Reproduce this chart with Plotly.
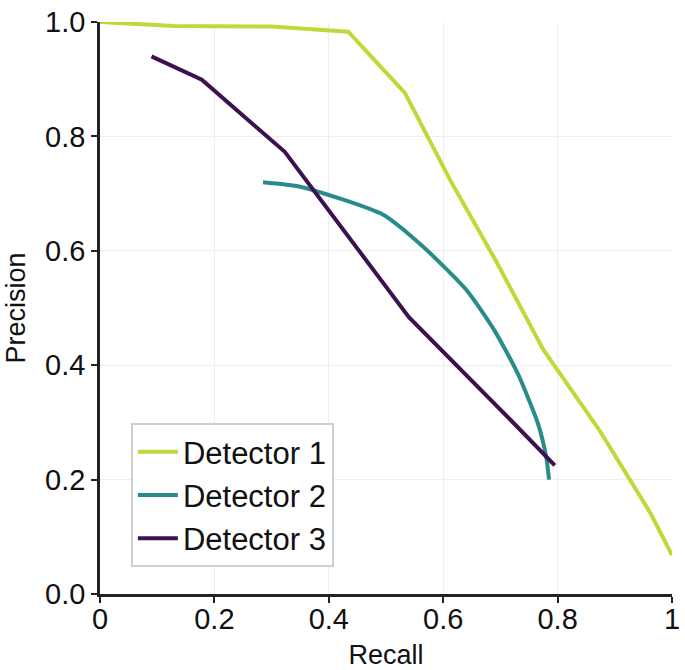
import plotly.graph_objects as go

det1_recall = [0.0, 0.13, 0.30, 0.434, 0.533, 0.612, 0.694, 0.775, 0.874, 0.962, 1.0]
det1_precision = [1.0, 0.993, 0.992, 0.983, 0.876, 0.724, 0.579, 0.427, 0.285, 0.142, 0.068]

det2_recall = [0.285, 0.35, 0.495, 0.565, 0.641, 0.69, 0.73, 0.765, 0.78, 0.785]
det2_precision = [0.72, 0.712, 0.663, 0.607, 0.531, 0.46, 0.386, 0.30, 0.24, 0.20]

det3_recall = [0.09, 0.178, 0.323, 0.54, 0.72, 0.795]
det3_precision = [0.94, 0.899, 0.773, 0.484, 0.302, 0.225]

x_ticks = [0, 0.2, 0.4, 0.6, 0.8, 1.0]
x_ticktext = ["0", "0.2", "0.4", "0.6", "0.8", "1"]
y_ticks = [0, 0.2, 0.4, 0.6, 0.8, 1.0]
y_ticktext = ["0.0", "0.2", "0.4", "0.6", "0.8", "1.0"]

fig = go.Figure()
fig.add_trace(go.Scatter(x=det1_recall, y=det1_precision, mode="lines", name="Detector 1",
                         line=dict(color="#c0d838", width=4)))
fig.add_trace(go.Scatter(x=det2_recall, y=det2_precision, mode="lines", name="Detector 2",
                         line=dict(color="#2a8c8a", width=4, shape="spline", smoothing=0.6)))
fig.add_trace(go.Scatter(x=det3_recall, y=det3_precision, mode="lines", name="Detector 3",
                         line=dict(color="#3d1150", width=4)))

font = "Liberation Sans, Arial, sans-serif"
fig.update_layout(
    width=685, height=670,
    margin=dict(l=100, r=13, t=22, b=76),
    paper_bgcolor="white", plot_bgcolor="white",
    font=dict(family=font, size=29, color="#111111"),
    showlegend=True,
    legend=dict(x=0.054, y=0.047, xanchor="left", yanchor="bottom",
                bgcolor="white", bordercolor="#cfcfcf", borderwidth=2,
                font=dict(size=31, family=font, color="#111111"),
                tracegroupgap=0, itemwidth=40, entrywidth=170, entrywidthmode="pixels"),
    xaxis=dict(range=[0, 1], tickvals=x_ticks, ticktext=x_ticktext,
               automargin=False, ticklabeloverflow="allow", ticklabelstandoff=-9,
               showline=True, linecolor="#222222", linewidth=2.5,
               ticks="outside", ticklen=6, tickwidth=2, tickcolor="#222222",
               showgrid=True, gridcolor="#eeeeee", gridwidth=1, zeroline=False,
               title=dict(text="Recall", standoff=13, font=dict(size=27)),
               tickfont=dict(size=29)),
    yaxis=dict(range=[0, 1], tickvals=y_ticks, ticktext=y_ticktext,
               automargin=False, ticklabeloverflow="allow",
               showline=True, linecolor="#222222", linewidth=2.5,
               ticks="outside", ticklen=6, tickwidth=2, tickcolor="#222222",
               showgrid=True, gridcolor="#eeeeee", gridwidth=1, zeroline=False,
               title=dict(text="Precision", standoff=12, font=dict(size=27)),
               tickfont=dict(size=29)),
)

# remove the browser's default 8px body margin so the figure fills the window
fig.write_html("out.html", config={"displayModeBar": False},
               post_script="document.body.style.margin='0';")
